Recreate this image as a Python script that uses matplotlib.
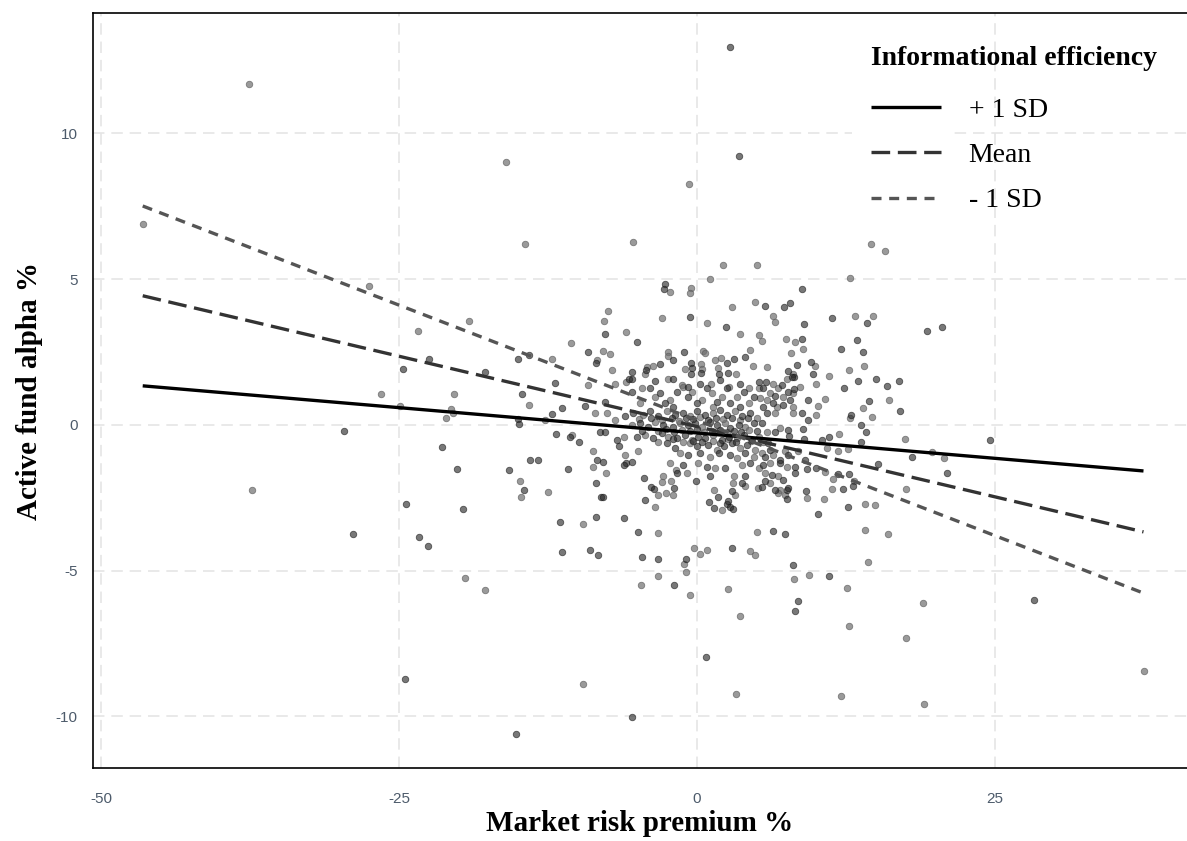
import matplotlib
matplotlib.use("Agg")
import matplotlib.pyplot as plt
from matplotlib.patches import Rectangle
from matplotlib.lines import Line2D

plt.rcParams["axes.unicode_minus"] = False

# ---------------- data (x = market risk premium %, y = active fund alpha %, shade 0 dark / 1 light)
pts_far_left = [
    (-37.6, 11.7, 1), (-46.5, 6.9, 1), (-27.5, 4.77, 1), (-23.4, 3.23, 1), (-19.1, 3.58, 1),
    (-22.5, 2.27, 0), (-24.7, 1.91, 0), (-17.8, 1.82, 0), (-26.5, 1.06, 1), (-24.9, 0.65, 1),
    (-20.4, 1.07, 1), (-20.6, 0.54, 1), (-20.5, 0.40, 1), (-21.1, 0.25, 1), (-29.6, -0.22, 0),
    (-21.4, -0.75, 0), (-20.1, -1.51, 0), (-37.3, -2.23, 1), (-24.4, -2.72, 0), (-19.6, -2.87, 0),
    (-28.9, -3.73, 0), (-23.3, -3.85, 0), (-22.6, -4.17, 0), (-19.5, -5.24, 1), (-17.8, -5.67, 1),
    (-24.5, -8.71, 0),
]

pts_upper = [
    (2.77, 12.97, 0), (3.52, 9.23, 0), (-16.05, 9.01, 1), (-0.65, 8.28, 1), (-14.45, 6.21, 1),
    (-5.39, 6.27, 1), (2.18, 5.48, 1), (5.03, 5.47, 1), (1.12, 5.0, 1), (8.81, 4.67, 0),
    (-2.68, 4.84, 0), (-2.77, 4.66, 0), (-2.27, 4.56, 1), (-0.48, 4.68, 1), (-0.61, 4.52, 1),
    (2.91, 4.06, 1), (4.87, 4.22, 1), (5.7, 4.08, 0), (7.3, 4.06, 0), (7.8, 4.19, 0),
    (6.4, 3.74, 1), (6.5, 3.52, 1), (8.98, 3.45, 0), (-7.49, 3.9, 1), (-7.83, 3.58, 1),
    (-2.96, 3.66, 1), (-0.59, 3.69, 0), (0.87, 3.5, 1), (2.43, 3.37, 0),
    (14.6, 6.2, 1), (15.8, 5.98, 1), (12.86, 5.04, 1), (11.35, 3.68, 0), (13.26, 3.72, 1),
    (14.74, 3.74, 1), (14.24, 3.49, 0), (19.27, 3.21, 0), (20.58, 3.37, 0), (13.4, 2.92, 0),
    (8.84, 2.94, 0), (8.92, 2.6, 1), (12.06, 2.61, 0), (13.9, 2.51, 0), (9.54, 2.16, 0),
    (9.9, 2.02, 1), (14.04, 2.02, 1), (12.73, 1.89, 1), (11.07, 1.68, 1), (9.7, 1.74, 0),
    (9.98, 1.4, 1), (13.5, 1.49, 0), (15.04, 1.57, 0), (15.96, 1.35, 0), (16.9, 1.49, 0),
    (12.36, 1.28, 0),
]

pts_right = [
    (9.31, 0.87, 0), (10.71, 0.88, 1), (10.15, 0.64, 1), (8.78, 0.42, 0), (10.0, 0.35, 1),
    (9.28, 0.16, 0), (8.92, -0.14, 0), (14.4, 0.83, 0), (13.96, 0.58, 1), (16.08, 0.85, 1),
    (17.03, 0.47, 0), (12.95, 0.35, 0), (12.84, 0.22, 1), (14.68, 0.26, 1), (13.76, -0.02, 0),
    (14.18, -0.25, 0), (11.94, -0.3, 1), (17.45, -0.5, 1), (24.58, -0.51, 0), (13.73, -0.58, 0),
    (11.07, -0.4, 0), (10.51, -0.51, 0), (9.0, -0.48, 0), (12.67, -0.82, 1), (11.83, -0.88, 1),
    (10.88, -0.78, 1), (19.69, -0.92, 1), (18.04, -1.11, 0), (20.69, -1.13, 1), (15.16, -1.34, 0),
    (21.0, -1.65, 0), (9.09, -1.2, 0), (9.26, -1.52, 0), (9.96, -1.49, 0), (10.71, -1.61, 1),
    (11.86, -1.67, 0), (12.78, -1.69, 0), (11.38, -1.84, 1), (13.2, -1.92, 1), (13.09, -2.1, 0),
    (12.25, -2.21, 0), (11.3, -2.2, 1), (17.53, -2.2, 1), (9.14, -2.26, 0), (9.26, -2.5, 1),
    (10.68, -2.54, 1), (12.7, -2.8, 0), (14.12, -2.72, 1), (14.96, -2.74, 1), (10.15, -3.04, 0),
    (14.09, -3.59, 1), (16.0, -3.74, 1), (14.32, -4.7, 1), (9.37, -5.16, 1), (11.07, -5.17, 0),
    (12.56, -5.58, 1), (18.93, -6.12, 1), (28.24, -6.0, 0), (12.78, -6.9, 1), (17.56, -7.32, 1),
    (37.47, -8.44, 1), (12.08, -9.29, 1), (19.07, -9.59, 1),
]

pts_lower = [
    (-4.67, -5.49, 1), (-3.24, -5.18, 1), (-1.93, -5.5, 0), (-0.92, -5.05, 1), (-0.56, -5.85, 1),
    (2.63, -5.63, 1), (3.61, -6.56, 1), (8.08, -4.81, 0), (8.11, -5.27, 1), (8.5, -6.05, 0),
    (8.2, -6.4, 0), (0.76, -7.96, 0), (-9.56, -8.9, 1), (3.24, -9.23, 1), (-5.43, -10.03, 0),
    (-15.18, -10.62, 0),
]

pts_mid_left = [
    (-7.72, 3.11, 0), (-5.98, 3.17, 1), (-10.55, 2.81, 1), (-9.12, 2.5, 0), (-7.86, 2.53, 1),
    (-7.27, 2.44, 1), (-8.4, 2.22, 1), (-8.45, 2.12, 0), (-14.99, 2.25, 0), (-14.09, 2.39, 0),
    (-12.14, 2.27, 1), (-7.1, 1.9, 1), (-11.94, 1.45, 0), (-9.14, 1.36, 1), (-6.88, 1.41, 1),
    (-5.98, 1.48, 1), (-14.68, 1.06, 0), (-14.12, 0.67, 1), (-11.35, 0.59, 0), (-9.42, 0.66, 0),
    (-7.74, 0.79, 0), (-5.68, 1.57, 0),
    (-14.99, 0.21, 0), (-14.91, 0.02, 0), (-12.75, 0.17, 1), (-12.13, 0.38, 0), (-11.83, -0.3, 0),
    (-10.65, -0.42, 0), (-10.45, -0.34, 1), (-9.89, -0.59, 0), (-8.69, -0.9, 1), (-8.41, -1.2, 0),
    (-7.93, -1.28, 0), (-8.75, -1.43, 1), (-7.63, -1.65, 1), (-8.49, -1.99, 0), (-8.05, -2.47, 0),
    (-7.91, -2.47, 0), (-8.44, -3.17, 0), (-6.11, -3.19, 0), (-8.97, -4.3, 0), (-8.35, -4.46, 0),
    (-11.29, -4.35, 0), (-11.49, -3.34, 0), (-9.56, -3.4, 1), (-12.53, -2.29, 1), (-14.79, -2.48, 1),
    (-14.54, -2.23, 0), (-14.85, -1.91, 1), (-15.77, -1.56, 0), (-13.98, -1.22, 0), (-13.34, -1.19, 0),
    (-10.85, -1.5, 0), (-8.13, -0.23, 0), (-7.68, -0.25, 0), (-7.57, 0.4, 1), (-8.55, 0.4, 1),
    (-6.87, 0.17, 1), (-6.03, 0.29, 0), (-6.73, -0.51, 0), (-6.53, -0.74, 0), (-6.11, -0.4, 1),
    (-6.03, -1.03, 1), (-5.95, -1.32, 0), (-6.11, -1.37, 0),
]

pts_core_upper = [
    (3.64, 3.12, 1), (5.2, 3.07, 1), (-5.06, 2.85, 0), (-2.46, 2.51, 1), (-2.43, 2.36, 1),
    (-1.12, 2.51, 0), (0.5, 2.53, 1), (0.67, 2.48, 1), (4.42, 2.56, 1), (-1.99, 2.21, 0),
    (-0.48, 2.13, 0), (0.34, 2.1, 1), (1.54, 2.23, 1), (1.99, 2.31, 1), (3.13, 2.27, 0),
    (4.05, 2.32, 0), (2.52, 2.12, 0), (-3.08, 2.08, 0), (-4.2, 2.0, 1), (-4.3, 1.89, 0),
    (-4.36, 1.74, 1), (-3.66, 2.02, 1), (-1.0, 1.91, 1), (-0.42, 1.95, 0), (-0.5, 1.74, 0),
    (4.73, 2.01, 1), (-5.45, 1.83, 0), (-5.48, 1.59, 0), (-3.5, 1.51, 0), (0.4, 1.93, 1),
    (0.34, 1.77, 0), (1.74, 1.94, 1), (1.83, 1.74, 0), (2.58, 1.78, 0), (3.28, 1.75, 1),
    (-2.4, 1.59, 1), (-2.04, 1.59, 0), (-1.28, 1.36, 1), (-0.72, 1.31, 0), (0.23, 1.4, 0),
    (1.13, 1.42, 1), (1.94, 1.54, 0), (2.67, 1.31, 1), (3.62, 1.4, 0), (4.35, 1.27, 1),
    (5.19, 1.48, 0),
    (-5.48, 1.14, 0), (-4.64, 1.26, 1), (-3.94, 1.26, 0), (-3.52, 0.97, 1), (-3.1, 1.08, 0),
    (-2.68, 0.74, 0), (-2.26, 0.86, 1), (-1.7, 1.14, 0), (-1.14, 1.31, 1), (-0.72, 0.97, 0),
    (-0.44, 1.14, 1), (-0.02, 0.74, 0), (0.4, 0.86, 1), (0.82, 1.26, 0), (1.24, 1.08, 1),
    (1.66, 0.8, 0), (2.08, 0.97, 1), (2.5, 1.26, 0), (2.78, 0.74, 0), (3.34, 0.97, 1),
    (3.9, 1.14, 0), (4.32, 0.74, 1), (4.74, 0.97, 0), (5.16, 1.26, 1), (-4.78, 0.74, 1),
    (-1.98, 0.63, 0), (1.38, 0.63, 1), (3.62, 0.63, 0),
    (5.49, 2.88, 1), (7.47, 2.93, 1), (8.23, 2.86, 1), (7.89, 2.47, 1), (5.85, 1.99, 1),
    (7.67, 1.85, 0), (8.03, 1.76, 1), (8.17, 1.66, 0), (8.37, 2.04, 0), (8.65, 1.31, 1),
    (8.17, 1.23, 0), (5.79, 1.48, 0), (6.41, 1.4, 1), (7.11, 1.37, 0), (7.53, 1.56, 1),
    (7.95, 1.63, 0), (6.83, 1.25, 1), (5.57, 1.25, 0), (6.13, 1.08, 1), (6.55, 0.99, 0),
    (5.85, 0.86, 1), (6.41, 0.74, 0), (7.25, 0.97, 1), (7.81, 0.86, 0), (8.09, 0.63, 1),
    (7.25, 0.68, 0), (6.69, 0.63, 1), (7.67, 1.14, 0), (5.29, 0.91, 1), (5.57, 0.63, 0),
    (8.09, 1.08, 1),
]

pts_core_lower = [
    (-4.95, -0.9, 1), (-5.45, -1.26, 0), (-4.47, -1.83, 0), (-3.83, -2.12, 0), (-3.6, -2.21, 0),
    (-2.94, -1.97, 1), (-2.21, -1.92, 1), (-2.63, -2.32, 1), (-1.93, -2.18, 0), (-1.99, -2.4, 1),
    (-3.25, -2.4, 1), (-4.36, -2.58, 0), (-3.5, -2.82, 1), (-0.08, -1.94, 0), (-1.79, -1.54, 1),
    (1.43, -2.23, 1), (1.79, -2.48, 0), (1.03, -2.63, 0), (1.43, -2.84, 0), (2.12, -2.92, 1),
    (2.49, -2.72, 0), (2.77, -2.8, 0), (2.99, -2.88, 0), (2.63, -2.61, 0), (3.05, -2.0, 1),
    (2.91, -2.26, 0), (3.19, -2.4, 1), (3.78, -1.98, 0), (4.03, -2.09, 1), (5.15, -2.15, 1),
    (-4.98, -3.67, 0), (-3.25, -3.7, 1), (-4.61, -4.53, 0), (-3.27, -4.61, 0), (-0.95, -4.61, 0),
    (-1.07, -4.78, 1), (-0.25, -4.23, 1), (0.25, -4.44, 1), (0.84, -4.29, 1), (2.96, -4.21, 0),
    (4.45, -4.34, 1), (4.89, -4.47, 1), (5.03, -3.67, 1),
    (-5.34, 0.40, 0), (-4.5, 0.34, 1), (-3.94, 0.46, 0), (-3.24, 0.29, 0), (-2.54, 0.46, 1),
    (-1.84, 0.34, 0), (-1.14, 0.40, 0), (-0.58, 0.29, 1), (-0.02, 0.46, 0), (0.68, 0.34, 0),
    (1.38, 0.40, 1), (1.94, 0.52, 0), (2.5, 0.34, 0), (3.2, 0.46, 1), (3.76, 0.29, 0),
    (4.46, 0.40, 0), (5.02, 0.23, 1),
    (-5.48, 0.0, 1), (-4.78, 0.06, 0), (-4.08, -0.06, 0), (-3.52, 0.11, 1), (-2.82, 0.0, 0),
    (-1.98, -0.06, 0), (-1.42, 0.06, 1), (-0.72, 0.0, 0), (-0.16, 0.06, 0), (0.4, -0.06, 1),
    (1.1, 0.11, 0), (1.66, 0.0, 0), (2.36, 0.06, 1), (2.78, -0.11, 0), (3.48, 0.0, 0),
    (4.04, -0.06, 1), (4.74, 0.06, 0),
    (-5.06, -0.40, 0), (-4.36, -0.34, 1), (-3.66, -0.46, 0), (-2.96, -0.29, 0), (-2.4, -0.40, 1),
    (-1.7, -0.46, 0), (-1.0, -0.34, 0), (-0.44, -0.51, 1), (0.12, -0.40, 0), (0.68, -0.46, 0),
    (1.38, -0.34, 1), (2.08, -0.51, 0), (2.64, -0.40, 0), (3.34, -0.46, 1), (3.9, -0.34, 0),
    (4.6, -0.51, 0), (5.16, -0.40, 1),
    (-3.24, -0.57, 1), (-2.54, -0.63, 0), (-1.84, -0.80, 0), (-0.58, -0.63, 1), (-0.02, -0.74, 0),
    (0.96, -0.69, 0), (1.66, -0.86, 1), (2.22, -0.74, 0), (2.92, -0.63, 0), (3.62, -0.80, 1),
    (4.18, -0.69, 0), (4.88, -0.86, 1),
    (-1.42, -0.97, 1), (-0.72, -1.03, 0), (0.26, -0.97, 0), (1.1, -1.09, 1), (1.8, -0.97, 0),
    (2.78, -1.03, 0), (3.34, -1.14, 1), (4.04, -0.97, 0), (4.74, -1.09, 1),
    (-2.26, -1.32, 1), (-1.14, -1.37, 0), (0.12, -1.32, 1), (0.82, -1.43, 0), (1.52, -1.49, 1),
    (2.36, -1.49, 0), (3.76, -1.37, 1), (4.46, -1.32, 0), (5.16, -1.49, 1),
    (-2.82, -1.77, 1), (-1.7, -1.66, 0), (-0.86, -1.66, 1), (1.1, -1.77, 0), (3.06, -1.77, 1),
    (4.04, -1.77, 0),
    (-4.9, 0.2, 1), (-3.9, 0.25, 0), (-2.9, 0.18, 1), (-2.1, 0.22, 0), (-1.5, 0.15, 1),
    (-0.9, 0.24, 0), (-0.3, 0.2, 0), (0.25, 0.26, 1), (0.9, 0.18, 0), (1.6, 0.23, 0),
    (2.2, 0.2, 1), (2.9, 0.25, 0), (3.6, 0.17, 1), (4.3, 0.22, 0),
    (-4.6, -0.2, 0), (-3.3, -0.22, 1), (-2.6, -0.15, 0), (-1.95, -0.25, 0), (-1.25, -0.18, 1),
    (-0.6, -0.22, 0), (0.0, -0.15, 0), (0.55, -0.25, 1), (1.25, -0.2, 0), (1.9, -0.17, 0),
    (2.5, -0.24, 1), (3.1, -0.2, 0), (3.7, -0.26, 0), (4.35, -0.18, 1), (5.0, -0.2, 0),
    (-2.0, -0.5, 0), (-1.2, -0.58, 1), (-0.3, -0.55, 0), (0.45, -0.6, 0), (1.3, -0.55, 1),
    (1.9, -0.62, 0), (2.6, -0.5, 1), (3.25, -0.6, 0), (4.5, -0.55, 1),
    (5.43, 0.06, 0), (5.85, -0.23, 1), (6.55, -0.23, 0), (6.97, -0.11, 1), (7.67, -0.17, 0),
    (7.75, -0.38, 0), (5.57, -0.57, 1), (5.99, -0.63, 0), (6.13, -0.86, 0), (5.43, -0.97, 1),
    (5.71, -1.09, 0), (6.41, -1.03, 1), (6.97, -1.2, 0), (7.39, -0.91, 1), (7.67, -1.03, 0),
    (5.57, -1.37, 0), (6.13, -1.32, 1), (6.97, -1.32, 0), (7.53, -1.43, 1), (8.23, -1.43, 0),
    (8.23, -1.66, 0), (5.71, -1.66, 1), (6.27, -1.72, 0), (6.83, -1.77, 1), (7.25, -1.89, 0),
    (5.71, -1.94, 0), (6.13, -2.0, 1), (5.43, -2.12, 0), (6.55, -2.23, 0), (6.97, -2.23, 1),
    (7.53, -2.23, 0), (7.39, -2.4, 1), (7.53, -2.55, 0), (7.67, -2.17, 0), (6.83, -2.35, 1),
    (8.09, 0.4, 1), (5.85, 0.4, 0), (6.55, 0.4, 1), (8.51, -0.91, 1), (6.4, -3.65, 0),
    (7.38, -3.75, 0),
]

# fitted simple slopes (endpoints over the observed range of the market risk premium)
line_x = [-46.5, 37.45]
plus_1sd = [1.34, -1.58]
mean_line = [4.43, -3.67]
minus_1sd = [7.51, -5.77]
legend_labels = ["+ 1 SD", "Mean", "- 1 SD"]

x_ticks = [-50, -25, 0, 25]
y_ticks = [-10, -5, 0, 5, 10]

# ---------------- figure
W, H = 1187, 841
fig = plt.figure(figsize=(W / 100, H / 100), dpi=100)
ax = fig.add_axes([93 / W, (H - 768) / H, (W - 93) / W, (768 - 13) / H])

all_pts = pts_far_left + pts_upper + pts_right + pts_lower + pts_mid_left + pts_core_upper + pts_core_lower
dark = [(p[0], p[1]) for p in all_pts if p[2] == 0]
light = [(p[0], p[1]) for p in all_pts if p[2] == 1]
ax.scatter([p[0] for p in light], [p[1] for p in light], s=22, color="#707070",
           alpha=0.7, edgecolors="#5a5a5a", linewidths=0.6, zorder=2)
ax.scatter([p[0] for p in dark], [p[1] for p in dark], s=22, color="#262626",
           alpha=0.62, edgecolors="#151515", linewidths=0.6, zorder=2)

ax.plot(line_x, plus_1sd, color="black", lw=2.4, solid_capstyle="butt", zorder=4)
ax.plot(line_x, mean_line, color="#333333", lw=2.4, dashes=(5.6, 2.3), dash_capstyle="butt", zorder=4)
ax.plot(line_x, minus_1sd, color="#555555", lw=2.4, dashes=(3.0, 2.3), dash_capstyle="butt", zorder=4)

ax.set_xlim(-50.67, 41.1)
ax.set_ylim(-11.77, 14.13)
ax.set_xticks(x_ticks)
ax.set_yticks(y_ticks)
ax.set_axisbelow(True)
ax.grid(True, color="#e3e3e3", lw=1.1, dashes=(7.5, 4.5))

for side in ["left", "bottom", "top"]:
    ax.spines[side].set_linewidth(1.2)
    ax.spines[side].set_color("black")
ax.spines["right"].set_visible(False)

ax.tick_params(axis="both", length=0, labelsize=11, labelcolor="#4d5b6b")
ax.tick_params(axis="x", pad=17)
ax.tick_params(axis="y", pad=11)
for lab in ax.get_xticklabels() + ax.get_yticklabels():
    lab.set_family("Liberation Sans")

ax.set_xlabel("Market risk premium %", family="Liberation Serif", fontweight="bold",
              fontsize=21, labelpad=3)
ax.set_ylabel("Active fund alpha %", family="Liberation Serif", fontweight="bold",
              fontsize=21, labelpad=9)

# legend key background (white key boxes hide the grid behind the legend keys)
ax.add_patch(Rectangle((852 / W, (H - 222) / H), 98 / W, 136 / H,
                       transform=fig.transFigure, facecolor="white", edgecolor="none", zorder=1))

handles = [
    Line2D([], [], color="black", lw=2.4, solid_capstyle="butt"),
    Line2D([], [], color="#333333", lw=2.4, dashes=(5.6, 2.3), dash_capstyle="butt"),
    Line2D([], [], color="#555555", lw=2.4, dashes=(3.0, 2.3), dash_capstyle="butt"),
]
leg = ax.legend(handles, legend_labels, title="Informational efficiency",
                loc="upper left", bbox_to_anchor=(852 / W, (H - 26.5) / H),
                bbox_transform=fig.transFigure, frameon=False,
                prop={"family": "Liberation Serif", "size": 20},
                title_fontproperties={"family": "Liberation Serif", "weight": "bold", "size": 20},
                handlelength=2.5, handletextpad=1.0, labelspacing=0.71, borderpad=0.2)
leg._legend_box.align = "left"
leg._legend_box.sep = 0.71 * 20 + 5
leg.set_zorder(5)

fig.savefig("out.png", dpi=100)
